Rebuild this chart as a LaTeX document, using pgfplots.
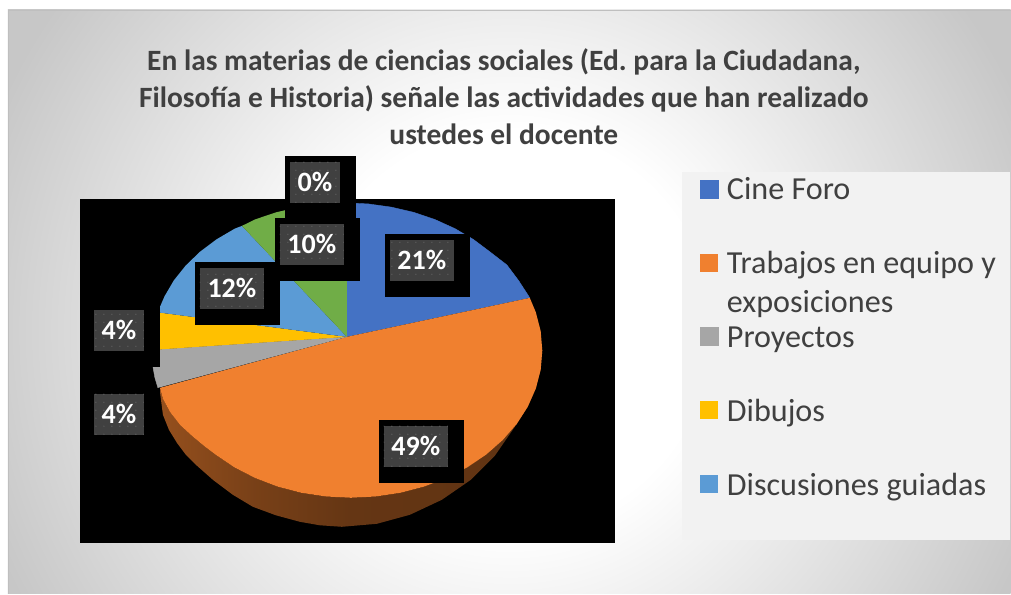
\documentclass[border=0pt]{standalone}
\usepackage{fontspec}
\setmainfont{Carlito}
\usepackage{pgfplots}
\pgfplotsset{compat=1.18}
\usetikzlibrary{patterns.meta}

\definecolor{cblue}{HTML}{4472C4}
\definecolor{corange}{HTML}{F0802F}
\definecolor{cgray}{HTML}{A6A6A6}
\definecolor{cyellow}{HTML}{FFC000}
\definecolor{clblue}{HTML}{5B9BD5}
\definecolor{cgreen}{HTML}{70AD47}
\definecolor{txt}{HTML}{404040}
\definecolor{lgd}{HTML}{F2F2F2}
\definecolor{lab}{HTML}{404040}
\definecolor{labdot}{HTML}{5C5C5C}

\pgfdeclareradialshading{bgshade}{\pgfpointorigin}{
  color(0bp)=(white); color(8.3bp)=(white); color(23.3bp)=(black!22); color(50bp)=(black!22)}
\pgfdeclarehorizontalshading{wallshade}{100bp}{
  color(0bp)=(corange!78!black); color(25bp)=(corange!62!black);
  color(37.5bp)=(corange!50!black); color(50bp)=(corange!42!black);
  color(100bp)=(corange!38!black)}

\tikzset{
  lbl/.style={inner sep=0pt, outer sep=0pt, fill=lab,
    postaction={pattern={Dots[radius=0.55pt,distance=6pt]},pattern color=labdot},
    text=white, font=\fontsize{21}{25}\selectfont\bfseries,
    minimum height=30.75pt},
}

\begin{document}
\frenchspacing
\begin{tikzpicture}
\begin{axis}[
    scale only axis,
    width=758.25pt,
    height=445.5pt,
    xmin=0, xmax=1011,
    ymin=0, ymax=594,
    y dir=reverse,
    hide axis,
    clip=false,
    legend image code/.code={\fill[#1] (0pt,1.5pt) rectangle (13.5pt,15pt);},
    legend cell align=left,
    legend style={
      at={(axis cs:700,163)}, anchor=north west,
      draw=none, fill=none, inner sep=0pt, outer sep=0pt,
      row sep=0pt, column sep=6.6pt,
      font=\fontsize{24.1}{29.25}\selectfont, text=txt,
      nodes={inner sep=0pt, outer sep=0pt, text height=27.7pt, text depth=27.7pt, anchor=base west},
    },
]
% page background
\fill[white] (rel axis cs:0,0) rectangle (rel axis cs:1,1);
\begin{scope}
  \clip (axis cs:8,10) rectangle (axis cs:1011,594);
  \shade[shading=bgshade] (axis cs:-90,-270) rectangle (axis cs:1110,930);
\end{scope}
\draw[black!25, line width=0.6pt] (axis cs:8,594) -- (axis cs:8,10) -- (axis cs:1011,10);
% plot area
\fill[black] (axis cs:80,199) rectangle (axis cs:615,543);
% legend panel
\fill[lgd] (axis cs:682,172) rectangle (axis cs:1010,540);

% side wall of the orange slice
\addplot[draw=none, shading=wallshade, forget plot] coordinates {
  (160,388) (163,399) (170,412) (180,425) (192,436) (204,446) (215.6,454.8) (234.4,467.5)
  (255.2,478.2) (277.7,486.8) (301.4,493) (326,496.7) (351,498) (376,496.7) (400.6,493)
  (424.3,486.8) (446.8,478.2) (467.6,467.5) (486.4,454.8) (502.9,440.3) (516.8,424.3)
  (527.9,407) (536,388.7) (540.9,369.8) (542.5,350.5)
  (539,362) (530,395) (515,427) (495,456) (471,480) (442,500) (410,515) (377,524) (342,527)
  (320,525.5) (300,522) (276,515.5) (253,507) (233,495) (213,480) (196,465) (186,455)
  (177,443) (169,430) (163,415) (160,392)};

% slices: 21, 49, 4, 4, 12, 10, 0
\addplot[fill=cblue, draw=cblue, line width=0.3pt] coordinates {
  (347,337) (347,203) (368.4,204) (391.4,207.2) (413.8,212.4) (435.1,219.6) (455.1,228.7)
  (473.5,239.5) (489.9,251.8) (507,265) (519,281) (530,298)};
\addplot[fill=corange, draw=none] coordinates {
  (347,337) (530,298) (536,312.3) (540.9,331.2) (542.5,350.5) (540.9,369.8) (536,388.7)
  (527.9,407) (516.8,424.3) (502.9,440.3) (486.4,454.8) (467.6,467.5) (446.8,478.2)
  (424.3,486.8) (400.6,493) (376,496.7) (351,498) (326,496.7) (301.4,493) (277.7,486.8)
  (255.2,478.2) (234.4,467.5) (215.6,454.8) (204,446) (192,436) (180,425) (170,412)
  (163,399) (160,388)};
\addplot[fill=cgray, draw=cgray, line width=0.3pt] coordinates {
  (347,337) (153,350) (153,367) (155,378) (158,388)};
\addplot[fill=cyellow, draw=none] coordinates {
  (347,337) (154,312) (153,350)};
\addplot[fill=clblue, draw=none] coordinates {
  (347,337) (242,226) (234.9,228.7) (216.5,239.5) (200.1,251.8) (185.8,265.6) (173.9,280.5)
  (164.6,296.4) (159.5,308.2) (154,312)};
\addplot[fill=cgreen, draw=none, forget plot] coordinates {
  (347,337) (347,203) (321.6,204) (298.6,207.2) (276.2,212.4) (254.9,219.6) (242,226)};

\legend{Cine Foro,
  \smash{\begin{tabular}[t]{@{}l@{}}Trabajos en equipo y\\exposiciones\end{tabular}},
  Proyectos, Dibujos, Discusiones guiadas}

% data labels
\fill[black] (axis cs:89,304) rectangle (axis cs:160,367);
\fill[black] (axis cs:89,388) rectangle (axis cs:160,451);
\fill[black] (axis cs:195,262) rectangle (axis cs:280,325);
\fill[black] (axis cs:285,156) rectangle (axis cs:356,219);
\fill[black] (axis cs:275,218) rectangle (axis cs:360,281);
\fill[black] (axis cs:385,234) rectangle (axis cs:470,297);
\fill[black] (axis cs:379,420) rectangle (axis cs:464,483);
\node[lbl, minimum width=37.5pt] at (axis cs:119,330.5) {4\%};
\node[lbl, minimum width=37.5pt] at (axis cs:119,414.5) {4\%};
\node[lbl, minimum width=48pt] at (axis cs:232,288.5) {12\%};
\node[lbl, minimum width=37.5pt] at (axis cs:315,182.5) {0\%};
\node[lbl, minimum width=48pt] at (axis cs:312,244.5) {10\%};
\node[lbl, minimum width=48pt] at (axis cs:422,260.5) {21\%};
\node[lbl, minimum width=48pt] at (axis cs:416,446.5) {49\%};

% title
\node[text=txt, font=\fontsize{22.1}{27.75}\selectfont\bfseries, align=center, anchor=north]
  at (axis cs:504,44) {En las materias de ciencias sociales (Ed. para la Ciudadana,\\
  Filosofía e Historia) señale las actividades que han realizado\\
  ustedes el docente};
\end{axis}
\end{tikzpicture}
\end{document}
